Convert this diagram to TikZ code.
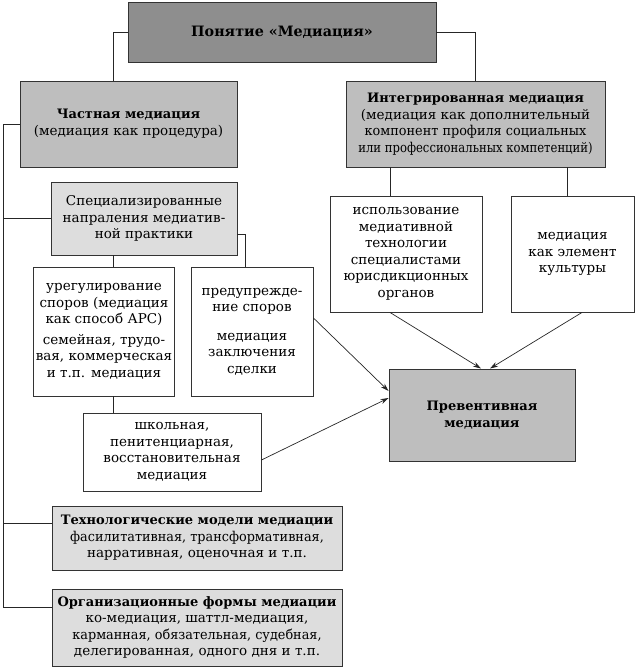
\documentclass[tikz,border=0pt]{standalone}
\usepackage{fontspec}
\setmainfont{DejaVu Serif}
\usetikzlibrary{arrows.meta}
\definecolor{gtop}{HTML}{8E8E8E}
\definecolor{gmid}{HTML}{BEBEBE}
\definecolor{glight}{HTML}{DDDDDD}
\definecolor{edge}{HTML}{333333}
\begin{document}
\begin{tikzpicture}[x=1pt,y=-1pt,
  box/.style={draw=edge,line width=0.9pt,align=center,inner sep=2pt,
    font=\fontsize{13.5}{16.5}\selectfont},
  hd/.style={font=\fontsize{13}{16.5}\selectfont\bfseries},
  conn/.style={draw=black!85,line width=0.7pt},
  arr/.style={draw=black!85,line width=0.7pt,-{Stealth[length=8pt,width=5pt]}}]
\useasboundingbox (0,0) rectangle (636,668);
\node[box,fill=gtop,minimum width=308pt,minimum height=60pt,font=\fontsize{14.3}{18}\selectfont\bfseries] (top) at (282,32) {Понятие «Медиация»};
\node[box,fill=gmid,minimum width=217pt,minimum height=86pt] (priv) at (128.5,124) {{\fontsize{13}{16.5}\selectfont\bfseries Частная медиация}\\(медиация как процедура)};
\node[box,fill=gmid,minimum width=259pt,minimum height=86pt] (integ) at (475.5,124) {{\fontsize{13}{16.5}\selectfont\bfseries Интегрированная медиация}\\(медиация как дополнительный\\{\addfontfeature{FakeStretch=0.95}компонент профиля социальных}\\{\addfontfeature{FakeStretch=0.86}или профессиональных компетенций)}};
\node[box,fill=glight,minimum width=186pt,minimum height=73pt] (spec) at (144,218.5) {Специализированные\\напраления медиатив-\\ной практики};
\node[box,fill=white,minimum width=152pt,minimum height=116pt] (use) at (406,254) {использование\\медиативной\\технологии\\специалистами\\юрисдикционных\\органов};
\node[box,fill=white,minimum width=123pt,minimum height=116pt] (cult) at (572.5,254) {медиация\\как элемент\\культуры};
\node[box,fill=white,minimum width=138pt,minimum height=129pt] (settle) at (104,331.5) {урегулирование\\споров (медиация\\как способ АРС)\\[4pt]семейная, трудо-\\вая, коммерческая\\и т.п. медиация};
\node[box,fill=white,minimum width=122pt,minimum height=129pt] (prev) at (252,331.5) {предупрежде-\\ние споров\\[12pt]медиация\\заключения\\сделки};
\node[box,fill=white,minimum width=178pt,minimum height=78pt] (school) at (172,452) {школьная,\\пенитенциарная,\\восстановительная\\медиация};
\node[box,fill=gmid,minimum width=186pt,minimum height=92pt,hd] (prevent) at (482,415) {Превентивная\\медиация};
\node[box,fill=glight,minimum width=290pt,minimum height=64pt] (tech) at (197,538) {{\fontsize{13}{16.5}\selectfont\bfseries Технологические модели медиации}\\{\addfontfeature{FakeStretch=0.95}фасилитативная, трансформативная,}\\нарративная, оценочная и т.п.};
\node[box,fill=glight,minimum width=290pt,minimum height=77pt] (org) at (197,627.5) {{\fontsize{13}{16.5}\selectfont\bfseries Организационные формы медиации}\\ко-медиация, шаттл-медиация,\\{\addfontfeature{FakeStretch=0.95}карманная, обязательная, судебная,}\\делегированная, одного дня и т.п.};
% connectors
\draw[conn] (top.west) -| ([xshift=-15.5pt]priv.north);
\draw[conn] (top.east) -| (integ.north);
\coordinate (trunk) at (3,124);
\draw[conn] (priv.west) -- (trunk) |- ([yshift=20.5pt]org.west);
\draw[conn] (trunk |- spec.west) -- (spec.west);
\draw[conn] (trunk |- tech.west) ++(0,-15) -- ([yshift=15pt]tech.west);
\draw[conn] ([xshift=-31pt]spec.south) -- ([xshift=-31pt]spec.south |- settle.north);
\draw[conn] ([yshift=-15.5pt]spec.east) -| ([xshift=-7pt]prev.north);
\draw[conn] ([xshift=9pt]settle.south) -- ([xshift=9pt]settle.south |- school.north);
\draw[conn] ([xshift=-16pt]use.north) -- ([xshift=-16pt]use.north |- integ.south);
\draw[conn] ([xshift=-5.5pt]cult.north) -- ([xshift=-5.5pt]cult.north |- integ.south);
% arrows
\draw[arr] ([xshift=-16pt]use.south) -- ([xshift=-1pt]prevent.north);
\draw[arr] ([xshift=9.5pt]cult.south) -- ([xshift=8pt]prevent.north);
\draw[arr] ([yshift=13.5pt]prev.east) -- ([yshift=24pt]prevent.west);
\draw[arr] ([yshift=-8pt]school.east) -- ([yshift=17pt]prevent.west);
\end{tikzpicture}
\end{document}
